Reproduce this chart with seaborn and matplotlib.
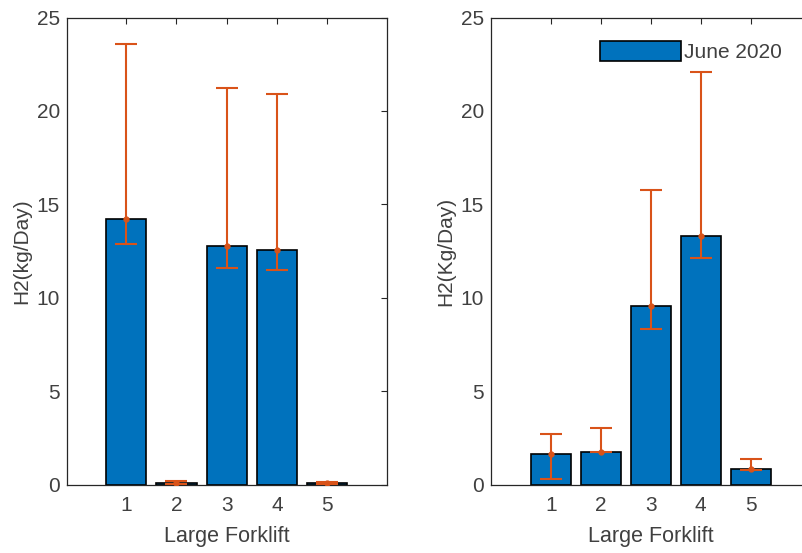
import numpy as np
import pandas as pd
import matplotlib
matplotlib.use("Agg")
import matplotlib.pyplot as plt
import seaborn as sns

# ==========================================================
# Data
# ==========================================================

forklifts = [1, 2, 3, 4, 5]

# left panel
left_h2 = [14.2, 0.1, 12.75, 12.55, 0.1]
left_err_low = [1.3, 0.05, 1.15, 1.05, 0.05]
left_err_high = [9.4, 0.1, 8.45, 8.35, 0.05]

# right panel (June 2020)
right_h2 = [1.62, 1.72, 9.55, 13.3, 0.85]
right_err_low = [1.32, 0.0, 1.2, 1.15, 0.05]
right_err_high = [1.07, 1.3, 6.2, 8.8, 0.53]

legend_label = "June 2020"
x_label = "Large Forklift"
y_labels = ["H2(kg/Day)", "H2(Kg/Day)"]
y_ticks = [0, 5, 10, 15, 20, 25]

BAR_COLOR = "#0072BD"
ERR_COLOR = "#D95319"
AXIS_COLOR = "#262626"
TEXT_COLOR = "#404040"
FONT_SIZE = 15

# ==========================================================
# Plot
# ==========================================================

sns.set_style("white")
plt.rcParams["font.family"] = ["Liberation Sans", "DejaVu Sans"]

fig = plt.figure(figsize=(8.02, 5.53), dpi=100)

W, H = 802, 553
ax_left = fig.add_axes([66.7 / W, 1 - 484.5 / H, 320 / W, 467 / H])
ax_right = fig.add_axes([490.7 / W, 1 - 484.5 / H, 320 / W, 467 / H])

panels = [
    (ax_left, left_h2, left_err_low, left_err_high, y_labels[0], -0.18, 6.18),
    (ax_right, right_h2, right_err_low, right_err_high, y_labels[1], -0.2, 6.2),
]

for ax, vals, lo, hi, ylab, x0, x1 in panels:

    df = pd.DataFrame({"forklift": forklifts, "h2": vals})

    sns.barplot(
        data=df,
        x="forklift",
        y="h2",
        native_scale=True,
        width=0.8,
        color=BAR_COLOR,
        saturation=1,
        edgecolor="black",
        linewidth=1.2,
        errorbar=None,
        ax=ax,
    )

    ax.errorbar(
        forklifts,
        vals,
        yerr=[lo, hi],
        fmt=".",
        color=ERR_COLOR,
        ecolor=ERR_COLOR,
        markersize=7,
        elinewidth=1.5,
        capsize=8,
        capthick=1.5,
        zorder=5,
    )

    ax.set_xlim(x0, x1)
    ax.set_ylim(0, 25)
    ax.set_xticks(forklifts)
    ax.set_yticks(y_ticks)
    ax.set_xlabel(x_label, fontsize=FONT_SIZE + 0.5, color=TEXT_COLOR, labelpad=8)
    ax.set_ylabel(ylab, fontsize=FONT_SIZE, color=TEXT_COLOR, labelpad=4)

    ax.tick_params(
        direction="in",
        top=True,
        right=True,
        length=4,
        width=0.8,
        colors=AXIS_COLOR,
        labelcolor=TEXT_COLOR,
        labelsize=FONT_SIZE,
    )
    ax.tick_params(axis="x", pad=8)
    ax.tick_params(axis="y", pad=5)

    for sp in ax.spines.values():
        sp.set_visible(True)
        sp.set_color(AXIS_COLOR)
        sp.set_linewidth(0.9)

    ax.set_facecolor("white")

# legend only on the right panel
ax_right.legend(
    handles=[ax_right.patches[0]],
    labels=[legend_label],
    loc="upper left",
    bbox_to_anchor=(600 / W, 1 - 41 / H),
    bbox_transform=fig.transFigure,
    frameon=False,
    fontsize=FONT_SIZE,
    borderpad=0,
    borderaxespad=0,
    handlelength=3.9,
    handleheight=1.1,
    handletextpad=0.15,
    labelcolor=TEXT_COLOR,
)

fig.savefig("out.png", dpi=100, facecolor="white")
